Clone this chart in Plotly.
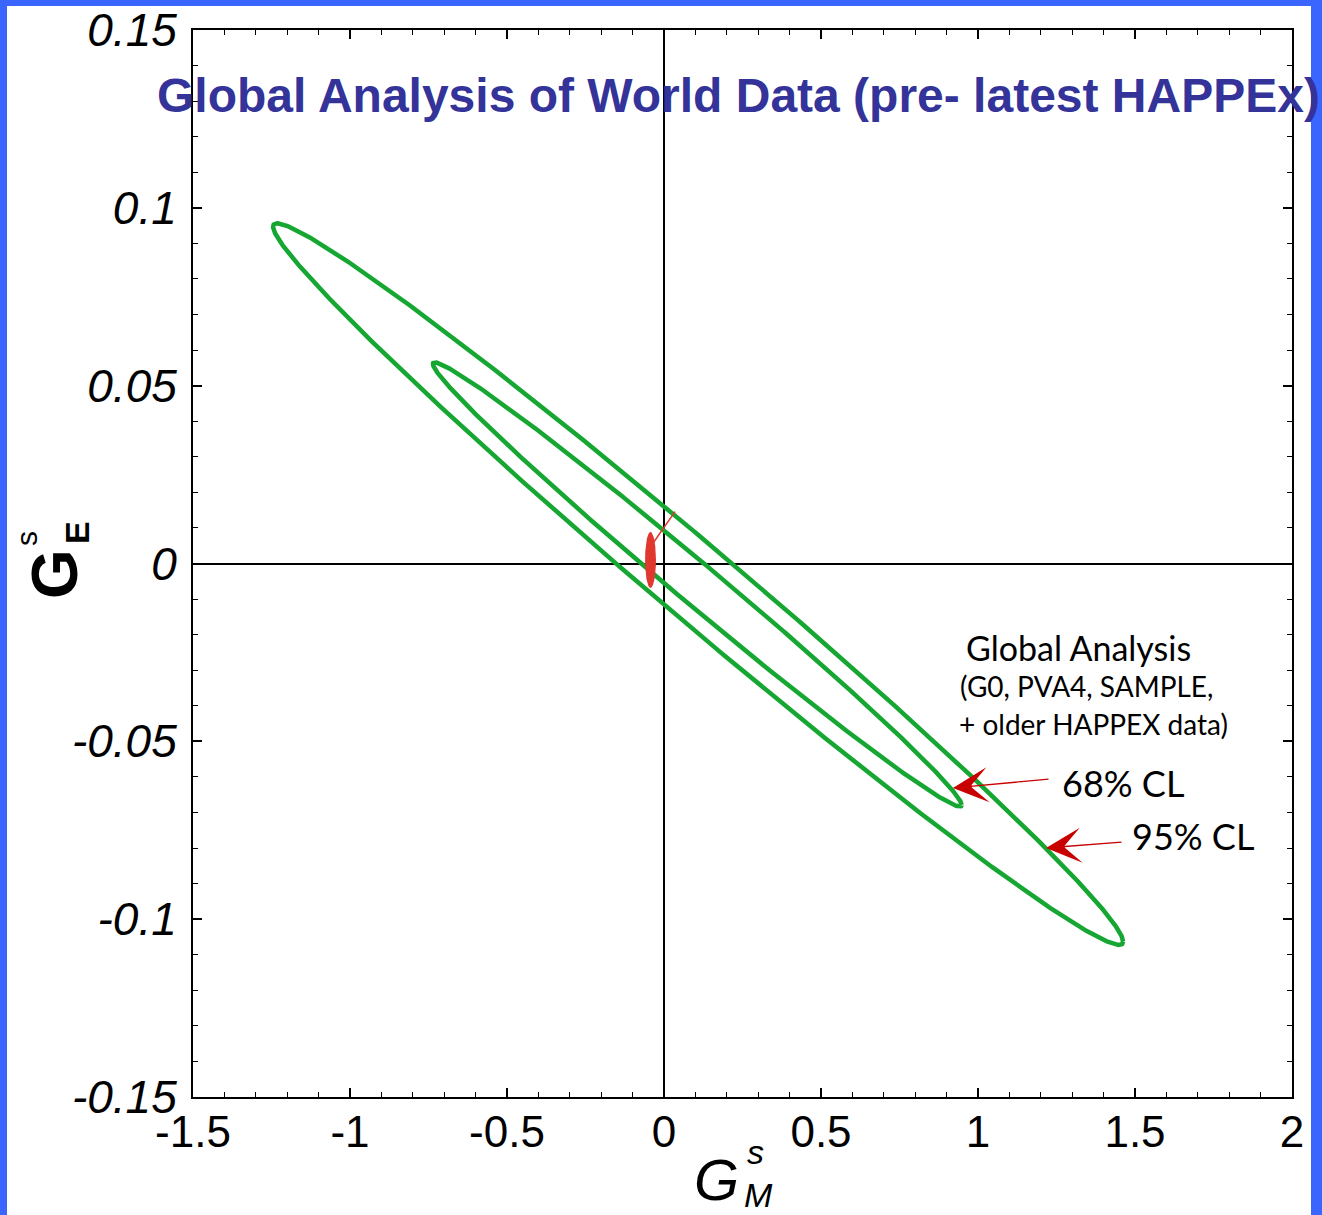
import numpy as np
import plotly.graph_objects as go

# ---------------- data ----------------
# confidence ellipses of the global analysis (G_M^s, G_E^s)
ell_names = ["95% CL", "68% CL"]
ell_cx = [0.1085, 0.106]
ell_cy = [-0.0058, -0.0059]
ell_sx = [1.3535, 0.842]      # half extent in G_M^s
ell_sy = [0.10145, 0.06245]   # half extent in G_E^s
ell_rho = [-0.9906, -0.9928]  # correlation

# latest HAPPEx small region
hx_cx, hx_cy = -0.043, 0.001
hx_rx, hx_ry = 0.0175, 0.0079
hx_line_x = [-0.039, 0.035]
hx_line_y = [0.0052, 0.0146]

x_ticks = [-1.5, -1, -0.5, 0, 0.5, 1, 1.5, 2]
x_ticktext = ["-1.5", "-1", "-0.5", "0", "0.5", "1", "1.5", "2"]
y_ticks = [-0.15, -0.1, -0.05, 0, 0.05, 0.1, 0.15]
y_ticktext = ["-0.15", "-0.1", "-0.05", "0", "0.05", "0.1", "0.15"]

# arrows: tip positions (data) for CL labels
cl_labels = ["68% CL", "95% CL"]
cl_tip_x = [0.920, 1.2166]
cl_tip_y = [-0.0631, -0.0800]

# ---------------- layout geometry ----------------
W, H = 1322, 1215
L, R, T, B = 193, 1292, 30, 1097


def px(xp):
    return (xp - L) / (R - L)


def py(yp):
    return (B - yp) / (B - T)


GREEN = "#16a632"
RED = "#e0382e"
ARROW = "#c80000"
BLUE = "#3a66ff"
TITLE = "#333399"

fig = go.Figure()

t = np.linspace(0, 2 * np.pi, 721)
for name, cx, cy, sx, sy, rho in zip(ell_names, ell_cx, ell_cy, ell_sx, ell_sy, ell_rho):
    xs = cx + sx * np.cos(t)
    ys = cy + sy * (rho * np.cos(t) + np.sqrt(1 - rho ** 2) * np.sin(t))
    fig.add_trace(go.Scatter(x=xs, y=ys, mode="lines", name=name,
                             line=dict(color=GREEN, width=4.5), hoverinfo="skip"))

fig.add_trace(go.Scatter(x=hx_line_x, y=hx_line_y, mode="lines",
                         line=dict(color=RED, width=1.5), hoverinfo="skip"))
fig.add_trace(go.Scatter(x=hx_cx + hx_rx * np.cos(t), y=hx_cy + hx_ry * np.sin(t),
                         mode="lines", fill="toself", fillcolor=RED,
                         line=dict(color=RED, width=0), hoverinfo="skip"))

axis_common = dict(
    showgrid=False, showline=True, linecolor="black", linewidth=2,
    mirror="ticks", ticks="inside", ticklen=9, tickwidth=1.5, tickcolor="black",
    zeroline=True, zerolinecolor="black", zerolinewidth=2, automargin=False,
)

fig.update_xaxes(
    range=[-1.5, 2], tickvals=x_ticks, ticktext=x_ticktext,
    tickfont=dict(family="Liberation Sans", size=44, color="black"),
    minor=dict(dtick=0.1, ticks="inside", ticklen=5, tickwidth=1, tickcolor="black"),
    ticklabelstandoff=-5,
    **axis_common,
)
fig.update_yaxes(
    range=[-0.15, 0.15], tickvals=y_ticks,
    ticktext=["<i>%s</i>" % s for s in y_ticktext],
    tickfont=dict(family="Liberation Sans", size=46, color="black"),
    minor=dict(dtick=0.01, ticks="inside", ticklen=5, tickwidth=1, tickcolor="black"),
    ticklabelstandoff=5,
    **axis_common,
)


def pann(x, y, text, size, family="Liberation Sans", color="black", angle=0):
    return dict(xref="paper", yref="paper", x=px(x), y=py(y), text=text,
                showarrow=False, xanchor="center", yanchor="middle", textangle=angle,
                font=dict(family=family, size=size, color=color))


ann = []
# title
ann.append(pann(738, 95, "<b>Global Analysis of World Data (pre- latest HAPPEx)</b>", 48, color=TITLE))
# y axis title (rotated): G, superscript s, subscript E
ann.append(pann(55, 574, "<b>G</b>", 64, angle=-90))
ann.append(pann(26, 538, "s", 30, angle=-90))
ann.append(pann(77, 533, "<b>E</b>", 34, angle=-90))
# x axis title: G, superscript s, subscript M
ann.append(pann(716, 1180, "<i>G</i>", 58))
ann.append(pann(755, 1152, "<i>s</i>", 34))
ann.append(pann(758, 1195, "<i>M</i>", 34))
# legend text block
TF = "Lato"
ann.append(pann(1078, 647, "Global Analysis", 34, family=TF))
ann.append(pann(1086, 686, "(G0, PVA4, SAMPLE,", 28, family=TF))
ann.append(pann(1093, 724, "+ older HAPPEX data)", 28, family=TF))
label_pos = [(1123, 783), (1193, 836)]
tail_pos = [(1050, 779), (1123, 842)]
for lab, tx, ty, (lx, ly), (ax_, ay_) in zip(cl_labels, cl_tip_x, cl_tip_y, label_pos, tail_pos):
    ann.append(pann(lx, ly, lab, 36, family=TF))
    tip_px = L + (tx - (-1.5)) / 3.5 * (R - L)
    tip_py = B - (ty - (-0.15)) / 0.3 * (B - T)
    ann.append(dict(x=tx, y=ty, xref="x", yref="y", text="", showarrow=True,
                    ax=ax_ - tip_px, ay=ay_ - tip_py, arrowhead=3, arrowsize=4.2,
                    arrowwidth=1.4, arrowcolor=ARROW))

# blue frame bands
shapes = []
for x0, y0, x1, y1 in [(0, 0, 7, H), (0, 0, W, 6), (1311, 0, W, H)]:
    shapes.append(dict(type="rect", xref="paper", yref="paper",
                       x0=px(x0), x1=px(x1), y0=py(y1), y1=py(y0),
                       fillcolor=BLUE, line=dict(width=0), layer="below"))

fig.update_layout(
    width=W, height=H, autosize=False,
    margin=dict(l=L, r=W - R, t=T, b=H - B, pad=0, autoexpand=False),
    paper_bgcolor="white", plot_bgcolor="white",
    showlegend=False, annotations=ann, shapes=shapes,
)

fig.write_html("out.html")
